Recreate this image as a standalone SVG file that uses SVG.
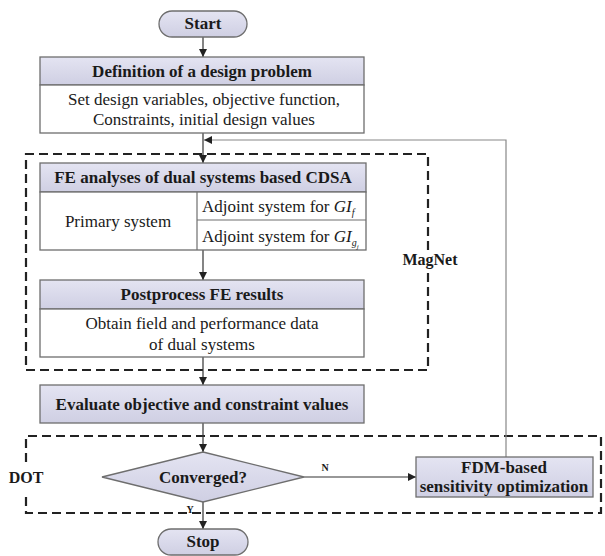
<svg xmlns="http://www.w3.org/2000/svg" width="605" height="556" viewBox="0 0 605 556">
<defs>
<linearGradient id="hdr" x1="0" y1="0" x2="0" y2="1">
<stop offset="0" stop-color="#e4e4f2"/>
<stop offset="1" stop-color="#cfcfe3"/>
</linearGradient>
<marker id="ah" viewBox="0 0 10 10" refX="10" refY="5" markerWidth="8" markerHeight="8" markerUnits="userSpaceOnUse" orient="auto">
<path d="M0,0 L10,5 L0,10 Z" fill="#222"/>
</marker>
<style>
text{font-family:'Liberation Serif',serif;fill:#1a1a1a;font-size:17px}
.b{font-weight:bold}
.g{font-size:16px}
.hdr{fill:url(#hdr);stroke:#6e6e6e;stroke-width:1.3}
.body{fill:#fff;stroke:#6e6e6e;stroke-width:1.3}
.ln{fill:none;stroke:#6e6e6e;stroke-width:1.2}
.con{fill:none;stroke:#333;stroke-width:1.2}
.dash{fill:none;stroke:#222;stroke-width:2.2;stroke-dasharray:9 5}
.sm{font-size:10px;font-weight:bold}
</style>
</defs>
<rect width="605" height="556" fill="#fff"/>

<g id="groups">
<path class="dash" d="M428,250 L428,154 L26,154 L26,370 L428,370 L428,270"/>
<text class="b g" x="430" y="265" text-anchor="middle">MagNet</text>
<path class="dash" d="M26,462 L26,436 L601,436 L601,513 L26,513 L26,494"/>
<text class="b g" x="26" y="483" text-anchor="middle">DOT</text>
</g>

<g id="connectors">
<line class="con" x1="203" y1="37" x2="203" y2="57" marker-end="url(#ah)"/>
<line class="con" x1="203" y1="133" x2="203" y2="163" marker-end="url(#ah)"/>
<line class="con" x1="203" y1="250" x2="203" y2="280" marker-end="url(#ah)"/>
<line class="con" x1="203" y1="357" x2="203" y2="385" marker-end="url(#ah)"/>
<line class="con" x1="203" y1="423" x2="203" y2="452" marker-end="url(#ah)"/>
<line class="con" x1="203" y1="502" x2="203" y2="529" marker-end="url(#ah)"/>
<line class="con" x1="304" y1="477" x2="416" y2="477" marker-end="url(#ah)"/>
<path class="con" d="M506,457 L506,140 L204,140" marker-end="url(#ah)" style="stroke:#888"/>
<text class="sm" x="325" y="471" text-anchor="middle">N</text>
<text class="sm" x="190" y="513" text-anchor="middle">Y</text>
</g>

<g id="start">
<rect class="hdr" x="159" y="11" width="88" height="26" rx="13"/>
<text class="b" x="203" y="29" text-anchor="middle">Start</text>
</g>

<g id="definition">
<rect class="hdr" x="40" y="57" width="324" height="28"/>
<rect class="body" x="40" y="85" width="324" height="48"/>
<text class="b" x="202" y="77" text-anchor="middle">Definition of a design problem</text>
<text x="204" y="105" text-anchor="middle">Set design variables, objective function,</text>
<text x="204" y="125" text-anchor="middle">Constraints, initial design values</text>
</g>

<g id="fe-analyses">
<rect class="hdr" x="40" y="163" width="326" height="29"/>
<rect class="body" x="40" y="192" width="326" height="58"/>
<line class="ln" x1="197" y1="192" x2="197" y2="250"/>
<line class="ln" x1="197" y1="220" x2="366" y2="220"/>
<text class="b" x="203" y="183" text-anchor="middle">FE analyses of dual systems based CDSA</text>
<text x="118" y="227" text-anchor="middle">Primary system</text>
<text x="202" y="212">Adjoint system for <tspan font-style="italic">GI</tspan><tspan font-style="italic" font-size="10" dy="4">f</tspan></text>
<text x="202" y="242">Adjoint system for <tspan font-style="italic">GI</tspan><tspan font-style="italic" font-size="10" dy="4">g</tspan><tspan font-style="italic" font-size="7" dy="3">j</tspan></text>
</g>

<g id="postprocess">
<rect class="hdr" x="40" y="280" width="324" height="29"/>
<rect class="body" x="40" y="309" width="324" height="48"/>
<text class="b" x="202" y="300" text-anchor="middle">Postprocess FE results</text>
<text x="202" y="329" text-anchor="middle">Obtain field and performance data</text>
<text x="202" y="350" text-anchor="middle">of dual systems</text>
</g>

<g id="evaluate">
<rect class="hdr" x="40" y="385" width="324" height="38"/>
<text class="b" x="202" y="410" text-anchor="middle">Evaluate objective and constraint values</text>
</g>

<g id="converged">
<polygon class="hdr" points="203,452 304,477 203,502 102,477"/>
<text class="b" x="203" y="483" text-anchor="middle">Converged?</text>
</g>

<g id="fdm">
<rect class="hdr" x="416" y="457" width="177" height="40"/>
<text class="b" x="504" y="473" text-anchor="middle">FDM-based</text>
<text class="b" x="504" y="492" text-anchor="middle">sensitivity optimization</text>
</g>

<g id="stop">
<rect class="hdr" x="158" y="529" width="90" height="26" rx="13"/>
<text class="b" x="203" y="547" text-anchor="middle">Stop</text>
</g>
</svg>
